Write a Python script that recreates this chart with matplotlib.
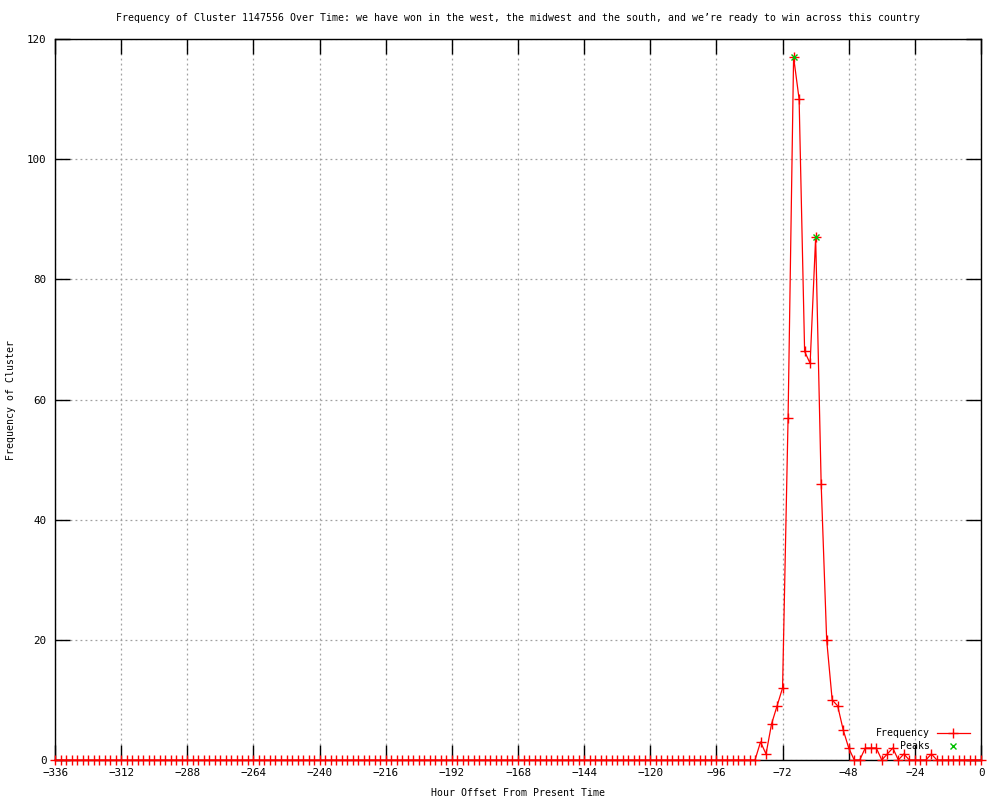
import numpy as np
import matplotlib
matplotlib.use("Agg")
import matplotlib.pyplot as plt
from matplotlib.lines import Line2D

# Hours from -336 to 0, every 2 hours
hours = list(range(-336, 1, 2))
# nonzero frequencies keyed by hour
nonzero_hours = [-80, -78, -76, -74, -72, -70, -68, -66, -64, -62, -60, -58, -56, -54, -52, -50, -48,
                 -42, -40, -38, -34, -32, -28, -18]
nonzero_vals = [3, 1, 6, 9, 12, 57, 117, 110, 68, 66, 87, 46, 20, 10, 9, 5, 2,
                2, 2, 2, 1, 2, 1, 1]
peak_hours = [-68, -60]
peak_vals = [117, 87]

title = ("Frequency of Cluster 1147556 Over Time: we have won in the west, "
         "the midwest and the south, and we\u2019re ready to win across this country")
x_ticks = list(range(-336, 1, 24))
y_ticks = list(range(0, 121, 20))
legend_labels = ['Frequency', 'Peaks']

lookup = dict(zip(nonzero_hours, nonzero_vals))
freq = [lookup.get(h, 0) for h in hours]

plt.rcParams['font.family'] = ['DejaVu Sans Mono', 'DejaVu Sans']
fs = 7.1
tfs = 7.8

fig = plt.figure(figsize=(10, 8), dpi=100)
ax = fig.add_axes([0.055, 0.05, 0.926, 0.90125])

red = '#ff0000'
green = '#00c000'
ax.plot(hours, freq, color=red, lw=0.9, marker='+', markersize=6.5,
        markeredgewidth=1.0, clip_on=False, zorder=3)
ax.plot(peak_hours, peak_vals, linestyle='none', color=green, marker='x',
        markersize=5, markeredgewidth=1.0, clip_on=False, zorder=4)

ax.set_xlim(-336, 0)
ax.set_ylim(0, 120)
ax.set_xticks(x_ticks)
ax.set_yticks(y_ticks)
ax.set_xticklabels([str(t).replace('-', '\u2212') for t in x_ticks], fontsize=tfs)
ax.set_yticklabels([str(t) for t in y_ticks], fontsize=tfs)
ax.tick_params(direction='in', length=11, width=1, top=True, right=True, pad=6)
ax.grid(True, color='#a0a0a0', linestyle=(0, (1.5, 2.5)), linewidth=0.9)
for s in ax.spines.values():
    s.set_linewidth(1.0)

ax.set_title(title, fontsize=fs, pad=13)
ax.set_xlabel('Hour Offset From Present Time', fontsize=fs, labelpad=7)
ax.set_ylabel('Frequency of Cluster', fontsize=fs, labelpad=8)

# gnuplot-style key (right-aligned text, sample to the right)
tx = 0.945
ys = [0.0374, 0.0194]
ax.text(tx, ys[0], legend_labels[0], transform=ax.transAxes, ha='right', va='center', fontsize=fs)
ax.text(tx, ys[1], legend_labels[1], transform=ax.transAxes, ha='right', va='center', fontsize=fs)
ax.add_line(Line2D([0.9525, 0.988], [ys[0], ys[0]], transform=ax.transAxes, color=red, lw=0.9))
ax.add_line(Line2D([0.970], [ys[0]], transform=ax.transAxes, color=red, marker='+',
                   markersize=6.5, markeredgewidth=1.0, linestyle='none'))
ax.add_line(Line2D([0.970], [ys[1]], transform=ax.transAxes, color=green, marker='x',
                   markersize=5, markeredgewidth=1.0, linestyle='none'))

fig.savefig('out.png', dpi=100)
